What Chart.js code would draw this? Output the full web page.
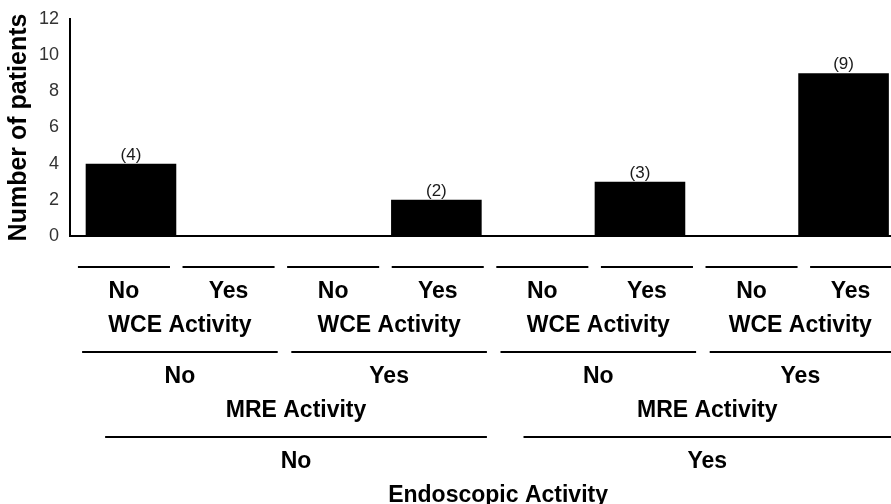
<!DOCTYPE html>
<html>
<head>
<meta charset="utf-8">
<script src="https://cdn.jsdelivr.net/npm/chart.js@4.4.1/dist/chart.umd.min.js"></script>
<style>
  html, body { margin: 0; padding: 0; background: #fff; overflow: hidden; }
</style>
</head>
<body>
<canvas id="myChart" width="891" height="504"></canvas>
<script>
// patients per combination (Endoscopic > MRE > WCE)
const counts = [4, 0, 0, 2, 0, 3, 0, 9];
const wceLabels = ['No', 'Yes', 'No', 'Yes', 'No', 'Yes', 'No', 'Yes'];
const mreLabels = ['No', 'Yes', 'No', 'Yes'];
const endoLabels = ['No', 'Yes'];
const levelTitles = ['WCE Activity', 'MRE Activity', 'Endoscopic Activity'];
const yTicks = [0, 2, 4, 6, 8, 10, 12];
const yTitle = 'Number of patients';

const FONT = "'Liberation Sans', Arial, sans-serif";

// "(n)" over the non-empty bars
const valueLabels = {
    id: 'valueLabels',
    afterDatasetsDraw(chart) {
        const ctx = chart.ctx;
        const meta = chart.getDatasetMeta(0);
        ctx.save();
        ctx.font = '17px ' + FONT;
        ctx.fillStyle = '#1a1a1a';
        ctx.textAlign = 'center';
        ctx.textBaseline = 'alphabetic';
        meta.data.forEach((bar, i) => {
            if (!counts[i]) return;
            ctx.fillText('(' + counts[i] + ')', bar.x, bar.y - 4);
        });
        ctx.restore();
    }
};

// the nested category table under the x axis
const levels = [wceLabels, mreLabels, endoLabels];
const lineOffsets = [[-0.44, 0.44], [-0.40, 0.47], [-0.18, 0.47]];

const groupTable = {
    id: 'groupTable',
    afterDraw(chart) {
        const { ctx, chartArea, scales: { x } } = chart;
        const W = chart.width;
        const n = wceLabels.length;
        // table columns are a touch wider than the bar slots
        const col = i => x.getPixelForValue(-0.069 + i * 1.0275);
        const colW = col(1) - col(0);
        const span = (lvl, first, last) => {
            const [a, b] = lineOffsets[lvl];
            return [col(first) + a * colW, Math.min(col(last) + b * colW, W)];
        };
        ctx.save();
        ctx.fillStyle = '#000';
        ctx.strokeStyle = '#000';
        ctx.lineWidth = 2;
        ctx.font = 'bold 23px ' + FONT;
        ctx.textAlign = 'center';
        ctx.textBaseline = 'alphabetic';
        levels.forEach((labels, lvl) => {
            const size = n / labels.length;
            const lineY = chartArea.bottom + 31 + lvl * 85;
            labels.forEach((lab, g) => {
                const [x0, x1] = span(lvl, g * size, (g + 1) * size - 1);
                ctx.beginPath();
                ctx.moveTo(x0, lineY);
                ctx.lineTo(x1, lineY);
                ctx.stroke();
                ctx.fillText(lab, (x0 + x1) / 2, lineY + 31);
            });
            const tSize = Math.min(size * 2, n);
            const tLvl = Math.min(lvl + 1, levels.length - 1);
            for (let g = 0; g < n / tSize; g++) {
                const [x0, x1] = span(tLvl, g * tSize, (g + 1) * tSize - 1);
                ctx.fillText(levelTitles[lvl], (x0 + x1) / 2, lineY + 65);
            }
        });
        ctx.restore();
    }
};

new Chart(document.getElementById('myChart'), {
    type: 'bar',
    data: {
        datasets: [{
            data: counts.map((v, i) => ({ x: i, y: v })),
            backgroundColor: '#000',
            borderWidth: 0,
            barPercentage: 0.89,
            categoryPercentage: 1
        }]
    },
    options: {
        responsive: false,
        animation: false,
        devicePixelRatio: 1,
        layout: { padding: { top: 19, bottom: 268, left: 0, right: 0 } },
        plugins: {
            legend: { display: false },
            tooltip: { enabled: false }
        },
        scales: {
            x: {
                type: 'linear',
                min: -0.599,
                max: 7.466,
                offset: false,
                ticks: { display: false },
                grid: { display: false, drawTicks: false, offset: false },
                border: { display: true, color: '#000', width: 2 }
            },
            y: {
                min: yTicks[0],
                max: yTicks[yTicks.length - 1],
                afterBuildTicks: s => { s.ticks = yTicks.map(v => ({ value: v })); },
                ticks: { padding: 11, color: '#333', font: { family: FONT, size: 18 } },
                grid: { display: false, drawTicks: false },
                border: { display: true, color: '#000', width: 2 },
                title: {
                    display: true,
                    text: yTitle,
                    color: '#000',
                    font: { family: FONT, size: 25, weight: 'bold' },
                    padding: { top: 4, bottom: 0 }
                },
                afterFit(s) {
                    s.width = 70;
                    s.paddingTop = 0;
                    s.paddingBottom = 0;
                }
            }
        }
    },
    plugins: [valueLabels, groupTable]
});
</script>
</body>
</html>
